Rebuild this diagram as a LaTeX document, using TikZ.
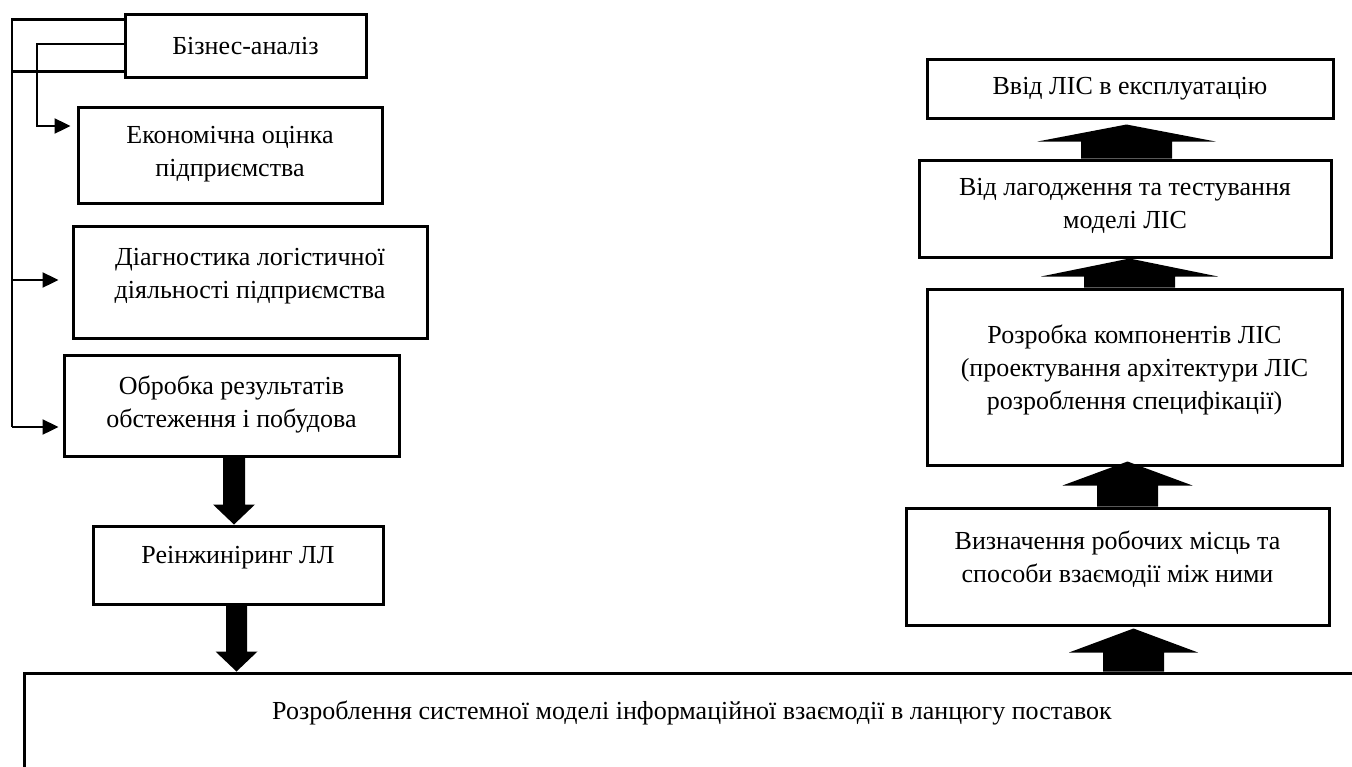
\documentclass[tikz,border=0pt]{standalone}
\usepackage{fontspec}
\setmainfont{Liberation Serif}
\usetikzlibrary{arrows.meta,calc}
\newcommand\downblk[5]{\fill let \p1=(#1),\p2=(#2) in (\x1-#3,\y1) -- (\x1+#3,\y1) -- (\x1+#3,\y2+#5) -- (\x1+#4,\y2+#5) -- (\x1,\y2) -- (\x1-#4,\y2+#5) -- (\x1-#3,\y2+#5) -- cycle;}
\newcommand\upblk[5]{\fill let \p1=(#1),\p2=(#2) in (\x1-#3,\y1) -- (\x1+#3,\y1) -- (\x1+#3,\y2-#5) -- (\x1+#4,\y2-#5) -- (\x1,\y2) -- (\x1-#4,\y2-#5) -- (\x1-#3,\y2-#5) -- cycle;}
\begin{document}
\begin{tikzpicture}[x=1pt,y=-1pt,
  box/.style={draw,line width=3pt,rectangle,inner sep=0pt},
  lbl/.style={font=\fontsize{26}{33}\selectfont,align=center,inner sep=0pt},
  conn/.style={line width=2.4pt},
  tipconn/.style={line width=2.4pt,-{Triangle[length=16pt,width=15pt]}}]
\useasboundingbox (0,0) rectangle (1352,766);
\clip (0,0) rectangle (1352,766);
% left column
\node[box,minimum width=241pt,minimum height=63pt,label={[lbl,yshift=-1pt]center:{Бізнес-аналіз}}] (biz) at (245.5,45.5) {};
\node[box,minimum width=304pt,minimum height=96pt,label={[lbl,yshift=1pt]center:{Економічна оцінка\\підприємства}}] (econ) at (230,155) {};
\node[box,minimum width=354pt,minimum height=112pt,label={[lbl,yshift=6pt]center:{Діагностика логістичної\\діяльності підприємства}}] (diag) at (250,282) {};
\node[box,minimum width=335pt,minimum height=101pt,label={[lbl,yshift=1.5pt]center:{Обробка результатів\\обстеження і побудова}}] (obr) at (231.5,405.5) {};
\node[box,minimum width=290pt,minimum height=78pt,label={[lbl,yshift=7pt]center:{Реінжиніринг ЛЛ}}] (rein) at (238,565) {};
% big box
\node[box,minimum width=1336pt,minimum height=200pt,label={[lbl,yshift=60pt]center:{Розроблення системної моделі інформаційної взаємодії в ланцюгу поставок}}] (big) at (692,773) {};
% right column
\node[box,minimum width=406pt,minimum height=59pt,label={[lbl,yshift=0pt]center:{Ввід ЛІС в експлуатацію}}] (vvid) at (1130,88.5) {};
\node[box,minimum width=412pt,minimum height=97pt,label={[lbl,yshift=3pt]center:{Від лагодження та тестування\\моделі ЛІС}}] (lag) at (1125,208.5) {};
\node[box,minimum width=415pt,minimum height=176pt,label={[lbl,yshift=7.5pt]center:{Розробка компонентів ЛІС\\(проектування архітектури ЛІС\\розроблення специфікації)}}] (rozr) at (1134.5,377) {};
\node[box,minimum width=423pt,minimum height=117pt,label={[lbl,yshift=7pt]center:{Визначення робочих місць та\\способи взаємодії між ними}}] (vyz) at (1117.5,566.5) {};
% thin connectors
\coordinate (busL) at (12,0);
\coordinate (busM) at (37,0);
\coordinate (ao) at (12,427);
\draw[conn] ([yshift=-7pt]biz.north west) -| (ao);
\draw[conn] ([yshift=7pt]biz.south west) -- ([yshift=7pt]biz.south west -| busL);
\draw[tipconn,shorten >=4pt] (ao) -- (ao -| obr.west);
\draw[tipconn,shorten >=13pt] ([yshift=2pt]diag.west -| busL) -- ([yshift=2pt]diag.west);
\draw[tipconn,shorten >=6pt] ([yshift=1.5pt]biz.west) -| ([yshift=29pt]econ.west -| busM) -- ([yshift=29pt]econ.west);
% block arrows (down)
\downblk{[xshift=2.5pt]obr.south}{[xshift=2.5pt]obr.south |- rein.north}{11pt}{21pt}{20pt}
\downblk{[xshift=-1.5pt]rein.south}{[xshift=-1.5pt]rein.south |- big.north}{10.5pt}{21pt}{20pt}
% block arrows (up)
\upblk{[xshift=1.5pt]lag.north}{$(lag.north |- vvid.south)+(1.5,5)$}{45.5pt}{89pt}{17pt}
\upblk{[xshift=-5pt]rozr.north}{[xshift=-5pt]rozr.north |- lag.south}{45.5pt}{88.5pt}{18pt}
\upblk{[xshift=10pt]vyz.north}{$(vyz.north |- rozr.south)+(10,-5)$}{30.5pt}{65pt}{24pt}
\upblk{$(vyz.south |- big.north)+(16,0)$}{$(vyz.south)+(16,2)$}{30.5pt}{64.5pt}{24pt}
\end{tikzpicture}
\end{document}
